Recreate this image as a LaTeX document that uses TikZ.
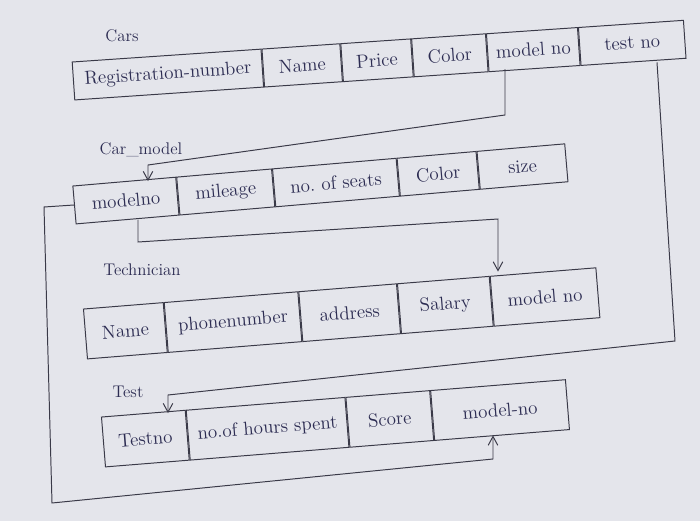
\documentclass[tikz,border=0pt]{standalone}
\usepackage{tikz}
\usetikzlibrary{positioning,arrows.meta}
\definecolor{ink}{RGB}{44,44,82}
\definecolor{pen}{RGB}{58,58,72}
\definecolor{paper}{RGB}{228,229,235}
\begin{document}
\begin{tikzpicture}[
    x=0.025cm, y=-0.025cm,
    node distance=0pt and 0pt,
    every node/.style={font=\fontsize{13.5}{16}\selectfont, text=ink},
    cell/.style={draw=pen, line width=0.7pt, inner sep=1pt, anchor=west},
    cars/.style={cell, rotate=3.9, minimum height=9.5mm},
    carmodel/.style={cell, rotate=4.9, minimum height=9.5mm},
    tech/.style={cell, rotate=4.6, minimum height=12.5mm},
    test/.style={cell, rotate=4.6, minimum height=12.5mm},
    title/.style={font=\large},
    link/.style={draw=pen, line width=0.7pt, -{Straight Barb[length=2.2mm, width=2.4mm]}}
]
\fill[paper] (0,0) rectangle (700,521);
\useasboundingbox (0,0) rectangle (700,521);

\node[title] (lb_cars) at (122,36) {Cars};
\node[cars, minimum width=4.73cm] (cr_reg) at (73,81) {Registration-number};
\node[cars, minimum width=1.95cm, right=of cr_reg] (cr_name) {Name};
\node[cars, minimum width=1.75cm, right=of cr_name] (cr_price) {Price};
\node[cars, minimum width=1.85cm, right=of cr_price] (cr_color) {Color};
\node[cars, minimum width=2.28cm, right=of cr_color] (cr_model) {model no};
\node[cars, minimum width=2.63cm, right=of cr_model] (cr_test) {test no};

\node[title] (lb_carmodel) at (141,150) {Car\_model};
\node[carmodel, minimum width=2.58cm] (cm_model) at (74,205) {modelno};
\node[carmodel, minimum width=2.38cm, right=of cm_model] (cm_mileage) {mileage};
\node[carmodel, minimum width=3.10cm, right=of cm_mileage] (cm_seats) {no.\ of seats};
\node[carmodel, minimum width=1.98cm, right=of cm_seats] (cm_color) {Color};
\node[carmodel, minimum width=2.20cm, right=of cm_color] (cm_size) {size};

\node[title] (lb_tech) at (142,270) {Technician};
\node[tech, minimum width=2.00cm] (te_name) at (85,334) {Name};
\node[tech, minimum width=3.35cm, right=of te_name] (te_phone) {phonenumber};
\node[tech, minimum width=2.45cm, right=of te_phone] (te_addr) {address};
\node[tech, minimum width=2.30cm, right=of te_addr] (te_salary) {Salary};
\node[tech, minimum width=2.65cm, right=of te_salary] (te_model) {model no};

\node[title] (lb_test) at (128,392) {Test};
\node[test, minimum width=2.10cm] (ts_no) at (103,442) {Testno};
\node[test, minimum width=3.98cm, right=of ts_no] (ts_hours) {no.of hours spent};
\node[test, minimum width=2.10cm, right=of ts_hours] (ts_score) {Score};
\node[test, minimum width=3.38cm, right=of ts_score] (ts_model) {model-no};

\coordinate (a1) at (505,115);
\coordinate (a2) at (148,165);
\coordinate (b1) at (138,242);
\coordinate (b2) at (498,219);
\coordinate (c1) at (44,207);
\coordinate (c2) at (52,503);
\coordinate (c3) at (493,459);
\coordinate (d0) at (657,60);
\coordinate (d1) at (675,341);
\coordinate (d2) at (168,395);

\draw[link] (a1 |- cr_model.south) -- (a1) -- (a2) -- (a2 |- cm_model.north);
\draw[link] (b1 |- cm_model.south) -- (b1) -- (b2) -- (b2 |- te_model.north);
\draw[link] (cm_model.west) -- (c1) -- (c2) -- (c3) -- (c3 |- ts_model.south);
\draw[link] (d0 |- cr_test.south) -- (d1) -- (d2) -- (d2 |- ts_no.north);
\end{tikzpicture}
\end{document}
